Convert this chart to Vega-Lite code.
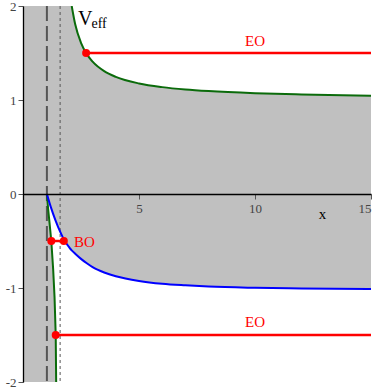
{
  "$schema": "https://vega.github.io/schema/vega-lite/v6.json",
  "width": 348,
  "height": 376,
  "autosize": {"type": "none"},
  "padding": {"left": 23, "top": 6, "right": 11, "bottom": 7},
  "background": "white",
  "config": {"view": {"stroke": null}},
  "datasets": {
    "region": [
      {"x": 0, "top": 2, "bot": 0},
      {"x": 1.03, "top": 2, "bot": 0},
      {"x": 1.2, "top": 2, "bot": -0.14},
      {"x": 1.4, "top": 2, "bot": -0.28},
      {"x": 1.6, "top": 2, "bot": -0.4},
      {"x": 1.8, "top": 2, "bot": -0.5},
      {"x": 2.0, "top": 2, "bot": -0.57},
      {"x": 2.1, "top": 2, "bot": -0.6},
      {"x": 2.25, "top": 1.805, "bot": -0.635},
      {"x": 2.5, "top": 1.608, "bot": -0.69},
      {"x": 2.75, "top": 1.488, "bot": -0.737},
      {"x": 3.0, "top": 1.408, "bot": -0.778},
      {"x": 3.5, "top": 1.307, "bot": -0.835},
      {"x": 4.0, "top": 1.246, "bot": -0.875},
      {"x": 5.0, "top": 1.176, "bot": -0.925},
      {"x": 6.0, "top": 1.137, "bot": -0.955},
      {"x": 7.0, "top": 1.112, "bot": -0.972},
      {"x": 8.0, "top": 1.095, "bot": -0.985},
      {"x": 10, "top": 1.073, "bot": -0.998},
      {"x": 12, "top": 1.059, "bot": -1.005},
      {"x": 15, "top": 1.046, "bot": -1.01}
    ],
    "upper": [
      {"x": 2.1, "v": 2.0},
      {"x": 2.25, "v": 1.805},
      {"x": 2.5, "v": 1.608},
      {"x": 2.75, "v": 1.488},
      {"x": 3.0, "v": 1.408},
      {"x": 3.5, "v": 1.307},
      {"x": 4.0, "v": 1.246},
      {"x": 5.0, "v": 1.176},
      {"x": 6.0, "v": 1.137},
      {"x": 7.0, "v": 1.112},
      {"x": 8.0, "v": 1.095},
      {"x": 10, "v": 1.073},
      {"x": 12, "v": 1.059},
      {"x": 15, "v": 1.046}
    ],
    "blue": [
      {"x": 1.03, "v": 0},
      {"x": 1.2, "v": -0.14},
      {"x": 1.4, "v": -0.28},
      {"x": 1.6, "v": -0.4},
      {"x": 1.8, "v": -0.5},
      {"x": 2.0, "v": -0.57},
      {"x": 2.1, "v": -0.6},
      {"x": 2.25, "v": -0.635},
      {"x": 2.5, "v": -0.69},
      {"x": 2.75, "v": -0.737},
      {"x": 3.0, "v": -0.778},
      {"x": 3.5, "v": -0.835},
      {"x": 4.0, "v": -0.875},
      {"x": 5.0, "v": -0.925},
      {"x": 6.0, "v": -0.955},
      {"x": 7.0, "v": -0.972},
      {"x": 8.0, "v": -0.985},
      {"x": 10, "v": -0.998},
      {"x": 12, "v": -1.005},
      {"x": 15, "v": -1.01}
    ],
    "lowgreen": [
      {"x": 0, "top": 0, "bot": -2},
      {"x": 1.03, "top": 0, "bot": -2},
      {"x": 1.08, "top": -0.15, "bot": -2},
      {"x": 1.14, "top": -0.3, "bot": -2},
      {"x": 1.22, "top": -0.5, "bot": -2},
      {"x": 1.3, "top": -0.8, "bot": -2},
      {"x": 1.36, "top": -1.1, "bot": -2},
      {"x": 1.41, "top": -1.5, "bot": -2},
      {"x": 1.43, "top": -2.0, "bot": -2}
    ],
    "greenline": [
      {"x": 1.03, "v": 0},
      {"x": 1.08, "v": -0.15},
      {"x": 1.14, "v": -0.3},
      {"x": 1.22, "v": -0.5},
      {"x": 1.3, "v": -0.8},
      {"x": 1.36, "v": -1.1},
      {"x": 1.41, "v": -1.5},
      {"x": 1.43, "v": -2.0}
    ],
    "orbits": [
      {"name": "EO1", "x": 2.72, "x2": 15, "y": 1.5},
      {"name": "EO2", "x": 1.41, "x2": 15, "y": -1.5},
      {"name": "BO", "x": 1.22, "x2": 1.76, "y": -0.5}
    ],
    "dots": [
      {"x": 2.72, "y": 1.5},
      {"x": 1.41, "y": -1.5},
      {"x": 1.22, "y": -0.5},
      {"x": 1.76, "y": -0.5}
    ],
    "labels": [
      {"x": 10, "y": 1.63, "t": "EO", "align": "center"},
      {"x": 10, "y": -1.36, "t": "EO", "align": "center"},
      {"x": 2.65, "y": -0.51, "t": "BO", "align": "left"}
    ]
  },
  "layer": [
    {
      "data": {"name": "region"},
      "mark": {"type": "area", "color": "#c0c0c0", "clip": true},
      "encoding": {
        "x": {"field": "x", "type": "quantitative", "scale": {"domain": [0, 15], "nice": false},
          "axis": {"orient": "bottom", "offset": -188, "values": [5, 10, 15], "title": "x", "titleX": 299, "titleY": 24, "titleBaseline": "alphabetic", "titleFont": "Liberation Serif", "titleFontSize": 15, "titleFontWeight": "normal", "titleColor": "#000", "domainColor": "#000", "domainWidth": 1.3, "tickColor": "#555", "tickSize": 5, "labelFont": "Liberation Serif", "labelFontSize": 13, "labelColor": "#444", "labelPadding": 3, "grid": false, "zindex": 1}},
        "y": {"field": "top", "type": "quantitative", "scale": {"domain": [-2, 2], "nice": false},
          "axis": {"orient": "left", "values": [-2, -1, 0, 1, 2], "labelExpr": "datum.value < 0 ? '-' + abs(datum.value) : '' + datum.value", "title": null, "domainColor": "#000", "domainWidth": 1.3, "tickColor": "#555", "tickSize": 5, "labelFont": "Liberation Serif", "labelFontSize": 13, "labelColor": "#444", "labelPadding": 2, "grid": false, "zindex": 1}},
        "y2": {"field": "bot"}
      }
    },
    {
      "data": {"name": "lowgreen"},
      "mark": {"type": "area", "color": "#c0c0c0", "clip": true},
      "encoding": {
        "x": {"field": "x", "type": "quantitative"},
        "y": {"field": "top", "type": "quantitative"},
        "y2": {"field": "bot"}
      }
    },
    {
      "data": {"values": [{"x": 1.03}]},
      "mark": {"type": "rule", "color": "#555555", "strokeWidth": 2, "strokeDash": [15, 5]},
      "encoding": {"x": {"field": "x", "type": "quantitative"}}
    },
    {
      "data": {"values": [{"x": 1.6}]},
      "mark": {"type": "rule", "color": "#555555", "strokeWidth": 1, "strokeDash": [3, 3]},
      "encoding": {"x": {"field": "x", "type": "quantitative"}}
    },
    {
      "data": {"name": "upper"},
      "mark": {"type": "line", "color": "#0b6b0b", "strokeWidth": 2, "clip": true, "interpolate": "monotone"},
      "encoding": {
        "x": {"field": "x", "type": "quantitative"},
        "y": {"field": "v", "type": "quantitative"}
      }
    },
    {
      "data": {"name": "greenline"},
      "mark": {"type": "line", "color": "#0b6b0b", "strokeWidth": 2, "clip": true},
      "encoding": {
        "x": {"field": "x", "type": "quantitative"},
        "y": {"field": "v", "type": "quantitative"}
      }
    },
    {
      "data": {"name": "blue"},
      "mark": {"type": "line", "color": "#0000ff", "strokeWidth": 2, "clip": true, "interpolate": "monotone"},
      "encoding": {
        "x": {"field": "x", "type": "quantitative"},
        "y": {"field": "v", "type": "quantitative"}
      }
    },
    {
      "data": {"name": "orbits"},
      "mark": {"type": "rule", "color": "#ff0000", "strokeWidth": 2.5},
      "encoding": {
        "x": {"field": "x", "type": "quantitative"},
        "x2": {"field": "x2"},
        "y": {"field": "y", "type": "quantitative"}
      }
    },
    {
      "data": {"name": "dots"},
      "mark": {"type": "circle", "color": "#ff0000", "opacity": 1, "size": 64},
      "encoding": {
        "x": {"field": "x", "type": "quantitative"},
        "y": {"field": "y", "type": "quantitative"}
      }
    },
    {
      "data": {"name": "labels"},
      "mark": {"type": "text", "color": "#ff0000", "font": "Liberation Serif", "fontSize": 15, "baseline": "middle"},
      "encoding": {
        "x": {"field": "x", "type": "quantitative"},
        "y": {"field": "y", "type": "quantitative"},
        "text": {"field": "t"},
        "align": {"field": "align", "type": "nominal", "scale": null}
      }
    },
    {
      "data": {"values": [{"x": 2.37, "y": 1.8, "t": "V"}]},
      "mark": {"type": "text", "color": "#000", "font": "Liberation Serif", "fontSize": 20, "align": "left", "baseline": "alphabetic"},
      "encoding": {
        "x": {"field": "x", "type": "quantitative"},
        "y": {"field": "y", "type": "quantitative"},
        "text": {"field": "t"}
      }
    },
    {
      "data": {"values": [{"x": 2.95, "y": 1.766, "t": "eff"}]},
      "mark": {"type": "text", "color": "#000", "font": "Liberation Serif", "fontSize": 14, "align": "left", "baseline": "alphabetic"},
      "encoding": {
        "x": {"field": "x", "type": "quantitative"},
        "y": {"field": "y", "type": "quantitative"},
        "text": {"field": "t"}
      }
    }
  ]
}
